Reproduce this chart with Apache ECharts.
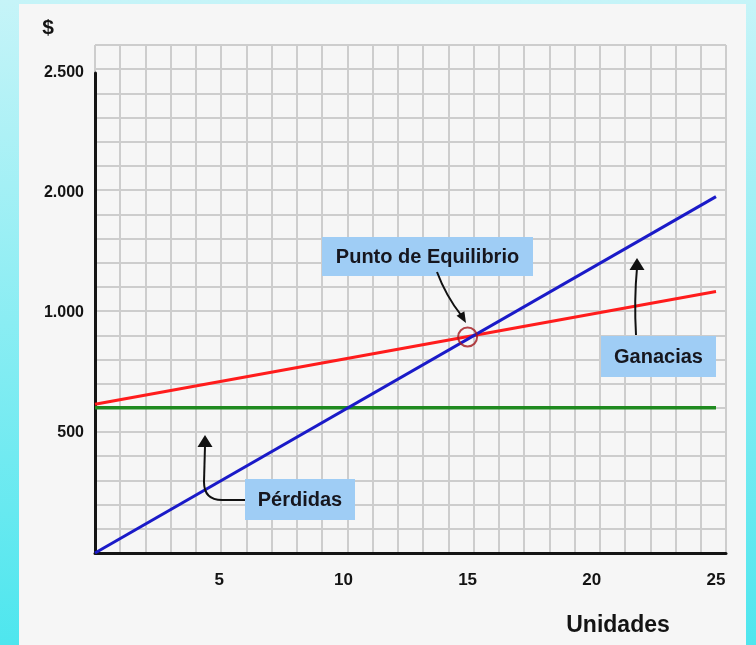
<!DOCTYPE html>
<html>
<head>
<meta charset="utf-8">
<script src="https://cdn.jsdelivr.net/npm/echarts@6/dist/echarts.min.js"></script>
<style>
  html, body { margin: 0; padding: 0; }
  #chart { width: 756px; height: 645px; }
</style>
</head>
<body>
<div id="chart"></div>
<script>
// Break-even chart: units sold vs. money
const units = [0, 25];
const revenue = [0, 1485];        // Ingresos
const totalCost = [620, 1090];    // Costo total
const fixedCost = [605, 605];     // Costo fijo
const breakEven = [15, 900];      // Punto de Equilibrio

const yTickValues = [500, 1000, 1500, 2000];
const yTickLabels = ['500', '1.000', '2.000', '2.500'];
const xTickValues = [5, 10, 15, 20, 25];
const xTickLabels = ['5', '10', '15', '20', '25'];

const FONT = '"Liberation Sans", Arial, Helvetica, sans-serif';
const INK = '#141414';
const GRID_GREY = '#cdcdcd';
const BOX_BLUE = '#9fcdf5';

const toPairs = (xs, ys) => xs.map((x, i) => [x, ys[i]]);

const chart = echarts.init(document.getElementById('chart'), null, { renderer: 'canvas' });

const option = {
  animation: false,
  grid: [
    // squared paper behind the plot
    { left: 95, right: 30, top: 45, bottom: 92 },
    // plotting area for the lines
    { left: 95, right: 40, top: 73, bottom: 92 }
  ],
  xAxis: [
    {
      gridIndex: 0, type: 'value', min: 0, max: 25, interval: 1,
      axisLine: { show: true, lineStyle: { color: INK, width: 3 } },
      axisTick: { show: false }, axisLabel: { show: false },
      splitLine: { show: true, lineStyle: { color: GRID_GREY, width: 2 } }
    },
    {
      gridIndex: 1, type: 'value', min: 0, max: 25, interval: 5,
      axisLine: { show: false }, axisTick: { show: false },
      splitLine: { show: false },
      axisLabel: {
        margin: 19, color: INK, fontFamily: FONT, fontWeight: 'bold', fontSize: 17,
        formatter: v => { const i = xTickValues.indexOf(v); return i < 0 ? '' : xTickLabels[i]; }
      }
    }
  ],
  yAxis: [
    {
      gridIndex: 0, type: 'value', min: 0, max: 21, interval: 1,
      axisLine: { show: false }, axisTick: { show: false }, axisLabel: { show: false },
      splitLine: { show: true, lineStyle: { color: GRID_GREY, width: 2 } }
    },
    {
      gridIndex: 1, type: 'value', min: 0, max: 2000, interval: 500,
      axisLine: { show: true, lineStyle: { color: INK, width: 3 } },
      axisTick: { show: false }, splitLine: { show: false },
      axisLabel: {
        margin: 11, color: INK, fontFamily: FONT, fontWeight: 'bold', fontSize: 16,
        formatter: v => { const i = yTickValues.indexOf(v); return i < 0 ? '' : yTickLabels[i]; }
      }
    }
  ],
  series: [
    {
      name: 'Costo fijo', type: 'line', xAxisIndex: 1, yAxisIndex: 1,
      data: toPairs(units, fixedCost), showSymbol: false, z: 3,
      lineStyle: { color: '#1f8a1f', width: 3.5 }
    },
    {
      name: 'Costo total', type: 'line', xAxisIndex: 1, yAxisIndex: 1,
      data: toPairs(units, totalCost), showSymbol: false, z: 4,
      lineStyle: { color: '#ff1c1c', width: 3 }
    },
    {
      name: 'Ingresos', type: 'line', xAxisIndex: 1, yAxisIndex: 1,
      data: toPairs(units, revenue), showSymbol: false, z: 5,
      lineStyle: { color: '#1a1ac8', width: 3 }
    },
    {
      name: 'Punto de Equilibrio', type: 'scatter', xAxisIndex: 1, yAxisIndex: 1,
      data: [breakEven], symbol: 'circle', symbolSize: 19, z: 6,
      itemStyle: { color: 'rgba(0,0,0,0)', borderColor: '#a3161c', borderWidth: 2 }
    }
  ]
};

chart.setOption(option);

// Callout boxes and arrows
function callout(x, y, w, h, label) {
  return [
    { type: 'rect', z: 20, shape: { x: x, y: y, width: w, height: h }, style: { fill: BOX_BLUE } },
    {
      type: 'text', z: 21, x: x + w / 2, y: y + h / 2 + 1,
      style: {
        text: label, fill: '#16161e', font: 'bold 20px ' + FONT,
        textAlign: 'center', textVerticalAlign: 'middle'
      }
    }
  ];
}

function arrowHead(tip, dir, len, half) {
  const n = Math.hypot(dir[0], dir[1]);
  const ux = dir[0] / n, uy = dir[1] / n;
  const bx = tip[0] - ux * len, by = tip[1] - uy * len;
  return {
    type: 'polygon', z: 22,
    shape: { points: [tip, [bx - uy * half, by + ux * half], [bx + uy * half, by - ux * half]] },
    style: { fill: '#111' }
  };
}

const STROKE = { fill: null, stroke: '#111', lineWidth: 2 };

function curve(x1, y1, cpx1, cpy1, x2, y2) {
  return { type: 'bezierCurve', z: 22, shape: { x1, y1, cpx1, cpy1, x2, y2 }, style: STROKE };
}

function segment(x1, y1, x2, y2) {
  return { type: 'line', z: 22, shape: { x1, y1, x2, y2 }, style: STROKE };
}

const graphics = [
  // page background: cyan frame and pale panel
  {
    type: 'rect', z: -100, shape: { x: 0, y: 0, width: 756, height: 645 },
    style: {
      fill: new echarts.graphic.LinearGradient(0, 0, 0, 1, [
        { offset: 0, color: '#c6f4f8' },
        { offset: 1, color: '#4ee6ee' }
      ])
    }
  },
  { type: 'rect', z: -99, shape: { x: 19, y: 4, width: 727, height: 641 }, style: { fill: '#f6f6f6' } },
  // axis captions
  { type: 'text', z: 20, x: 48, y: 28, style: { text: '$', fill: INK, font: 'bold 21px ' + FONT, textAlign: 'center', textVerticalAlign: 'middle' } },
  { type: 'text', z: 20, x: 618, y: 626, style: { text: 'Unidades', fill: INK, font: 'bold 23px ' + FONT, textAlign: 'center', textVerticalAlign: 'middle' } },
  ...callout(322, 237, 211, 39, 'Punto de Equilibrio'),
  ...callout(245, 479, 110, 41, 'Pérdidas'),
  ...callout(601, 336, 115, 41, 'Ganacias'),
  // Punto de Equilibrio pointer
  curve(437, 272, 446, 296, 461, 315),
  arrowHead([466, 323], [28, 48], 11, 4.5),
  // Pérdidas pointer
  segment(245, 500, 222, 500),
  curve(222, 500, 204, 500, 204, 482),
  segment(204, 482, 205, 446),
  arrowHead([205, 435], [0, -1], 12, 7.5),
  // Ganacias pointer
  curve(636, 335, 634, 300, 637, 268),
  arrowHead([637, 258], [0, -1], 12, 7.5)
];

chart.setOption({ graphic: { elements: graphics } });
</script>
</body>
</html>
